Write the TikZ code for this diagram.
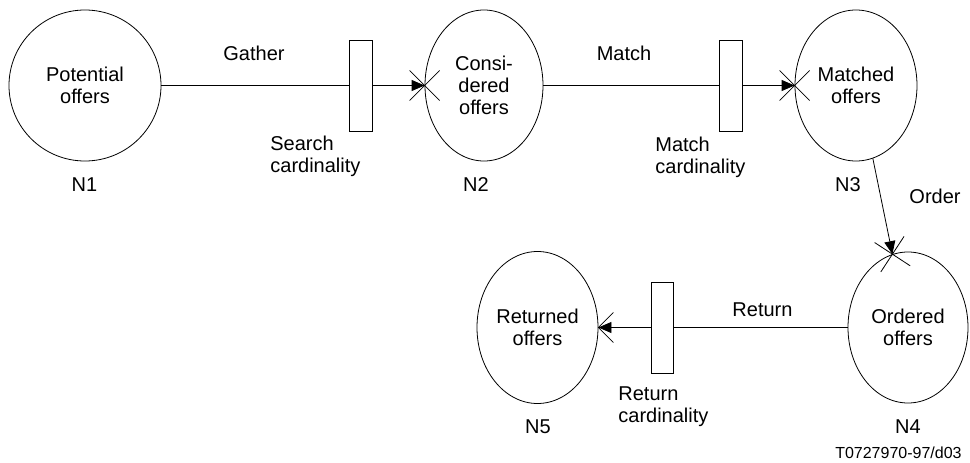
\documentclass[tikz,border=0pt]{standalone}
\usepackage{fontspec}
\setmainfont{Liberation Sans}
\usetikzlibrary{arrows.meta,shapes.geometric}

\begin{document}
\begin{tikzpicture}[x=1pt,y=-1pt,>={Triangle[length=13pt,width=11pt]},
        line width=0.8pt,font=\fontsize{20}{22}\selectfont,
        main node/.style={ellipse,draw,inner sep=0pt,align=center},
        gate node/.style={rectangle,draw,minimum width=23pt,minimum height=91pt,inner sep=0pt},
        note/.style={align=left,anchor=base west,inner sep=0pt},
        tag/.style={anchor=base,inner sep=0pt},
        xmark/.pic={\draw (-15,-15) -- (15,15) (-15,15) -- (15,-15);},
        vmark/.pic={\draw (15,-15) -- (0,0) -- (15,15);}]
        \useasboundingbox (0,0) rectangle (970,463);
        \node[main node,minimum width=152pt,minimum height=151pt] (n1) at (85,85.5) {Potential\\offers};
        \node[main node,minimum width=118pt,minimum height=151pt] (n2) at (484,85.5) {Consi-\\dered\\offers};
        \node[main node,minimum width=122pt,minimum height=151pt] (n3) at (856,85.5) {Matched\\offers};
        \node[main node,minimum width=120pt,minimum height=151pt] (n4) at (908,327.5) {Ordered\\offers};
        \node[main node,minimum width=121pt,minimum height=152pt] (n5) at (537.5,327.5) {Returned\\offers};
        \node[gate node] (g1) at (360.5,85.5) {};
        \node[gate node] (g2) at (730.5,85.5) {};
        \node[gate node,minimum width=22pt] (g3) at (662,327.5) {};
        \path
        (n1) edge (g1)
        (g1) edge[->] (n2)
        (n2) edge (g2)
        (g2) edge[->] (n3)
        (n3.-77.5) edge[->] (n4.102)
        (n4) edge (g3)
        (g3) edge[->] (n5)
        ;
        \pic at (n2.west) {xmark};
        \pic at (n3.west) {xmark};
        \pic[rotate=11.8] at (n4.102) {xmark};
        \pic at (n5.east) {vmark};
        % labels (base = last line)
        \node[tag] (gather) at (254,60) {Gather};
        \node[tag] (match) at (624,60) {Match};
        \node[tag] (order) at (935,203) {Order};
        \node[tag] (return) at (762.5,316) {Return};
        \node[note] (search) at (270,172) {Search\\cardinality};
        \node[note] (matchcard) at (655,173) {Match\\cardinality};
        \node[note] (returncard) at (618,422) {Return\\cardinality};
        \node[tag] (l1) at (84.5,191) {N1};
        \node[tag] (l2) at (476,191) {N2};
        \node[tag] (l3) at (848,191) {N3};
        \node[tag] (l4) at (908,433) {N4};
        \node[tag] (l5) at (538,433) {N5};
        \node[anchor=base east,inner sep=0pt,font=\fontsize{16}{18}\selectfont] (ref) at (962,458) {T0727970-97/d03};
\end{tikzpicture}
\end{document}
